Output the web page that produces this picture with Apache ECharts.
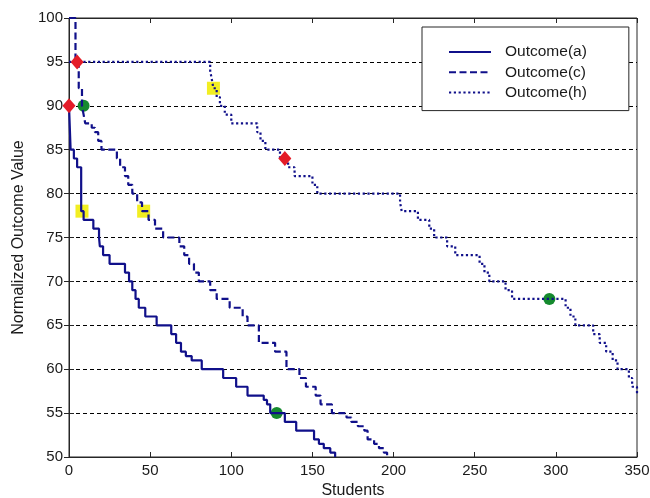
<!DOCTYPE html>
<html>
<head>
<meta charset="utf-8">
<script src="https://cdn.jsdelivr.net/npm/echarts@6/dist/echarts.min.js"></script>
<style>
  html, body { margin: 0; padding: 0; background: #fff; }
  #main { width: 650px; height: 498px; }
</style>
</head>
<body>
<div id="main"></div>
<script>
// step points: value y holds from x until the next x
const xA = [0, 1, 3, 5, 7.5, 9, 15, 18.5, 19, 21, 25, 34.5, 37, 39, 41, 43, 47, 54, 63, 66, 69, 72, 75.6, 81.8, 95, 103, 110, 120, 122, 124, 133, 140, 151, 154, 157, 161, 164]
const yA = [90, 85, 84, 83, 78, 77, 76, 75, 74, 73, 72, 71, 70, 69, 68, 67, 66, 65, 64, 63, 62, 61.5, 61, 60, 59, 58, 57, 56.5, 56, 55, 54, 53, 52, 51.5, 51, 50.5, 50]

const xC = [0, 4, 6, 8, 9, 10, 14, 16, 18, 20, 29.5, 31.5, 34.5, 36.5, 39, 42, 45, 49, 53, 58, 68, 71, 74, 77, 80, 87, 91, 99, 107, 110, 117, 127, 134, 142, 146, 152, 155, 162, 171, 174, 178, 182, 184, 188, 191, 194, 196]
const yC = [100, 95, 92, 90, 89, 88, 87.5, 87, 86, 85, 84, 83, 82, 81, 80, 79, 78, 77, 76, 75, 74, 73, 72, 71, 70, 69, 68, 67, 66, 65, 63, 62, 60, 59, 58, 57, 56, 55, 54.5, 54, 53.5, 53, 52, 51.5, 51, 50.5, 50]

const xH = [0, 87, 88, 89, 91, 93, 96, 100, 116, 118, 121, 130, 135, 139, 150, 153, 204, 205, 215, 222, 225, 233, 238, 253, 256, 259, 269, 273, 306, 309, 312, 323, 327, 331, 335, 338, 345, 347, 350]
const yH = [95, 94, 93, 92, 91, 90, 89, 88, 87, 86, 85, 84, 83, 82, 81, 80, 79, 78, 77, 76, 75, 74, 73, 72, 71, 70, 69, 68, 67, 66, 65, 64, 63, 62, 61, 60, 59, 58, 57]

// highlighted students
const redX = [0, 5, 133]
const redY = [90, 95, 84]
const greenX = [9, 128, 296]
const greenY = [90, 55, 68]
const yellowX = [8, 46, 89]
const yellowY = [78, 78, 92]

const seriesNames = ['Outcome(a)', 'Outcome(c)', 'Outcome(h)']

const zip = (xs, ys) => xs.map((x, i) => [x, ys[i]])

const lineColor = '#10108a'
const textColor = '#1a1a1a'
const font = 'Liberation Sans, Arial, sans-serif'

const chart = echarts.init(document.getElementById('main'))

const baseX = {
  type: 'value',
  min: 0,
  max: 350,
  interval: 50,
  axisLine: { lineStyle: { color: '#262626' } },
  axisTick: { inside: true, length: 5, lineStyle: { color: '#262626' } },
  splitLine: { show: false }
}
const baseY = {
  type: 'value',
  min: 50,
  max: 100,
  interval: 5,
  axisLine: { lineStyle: { color: '#262626' } },
  axisTick: { inside: true, length: 5, lineStyle: { color: '#262626' } }
}

const option = {
  animation: false,
  grid: {
    left: 69, right: 13, top: 18, bottom: 41,
    outerBoundsMode: 'none',
    show: true, borderColor: '#262626', borderWidth: 1, backgroundColor: '#fff'
  },
  legend: {
    data: seriesNames,
    orient: 'vertical',
    left: 422,
    top: 27,
    padding: [17, 42, 10, 26],
    itemWidth: 42,
    itemHeight: 14,
    itemGap: 4.3,
    borderColor: '#262626',
    borderWidth: 1,
    borderRadius: 0,
    backgroundColor: '#fff',
    itemStyle: { opacity: 0 },
    textStyle: { fontSize: 15.5, color: textColor, fontFamily: font, padding: [0, 0, 0, 9] }
  },
  xAxis: [{
    ...baseX,
    name: 'Students',
    nameLocation: 'middle',
    nameGap: 24,
    nameTextStyle: { fontSize: 16, color: textColor, fontFamily: font },
    axisLabel: { margin: 6, fontSize: 15, color: textColor, fontFamily: font }
  }, {
    ...baseX,
    position: 'top',
    axisLabel: { show: false }
  }],
  yAxis: [{
    ...baseY,
    name: 'Normalized Outcome Value',
    nameLocation: 'middle',
    nameGap: 41,
    nameTextStyle: { fontSize: 16, color: textColor, fontFamily: font },
    axisLabel: { margin: 6, fontSize: 15, color: textColor, fontFamily: font },
    splitLine: { lineStyle: { type: [4, 3], color: '#000', width: 1 } }
  }, {
    ...baseY,
    position: 'right',
    axisLabel: { show: false },
    splitLine: { show: false }
  }],
  series: [
    {
      name: seriesNames[0], type: 'line', step: 'end', symbol: 'none', z: 2,
      data: zip(xA, yA),
      itemStyle: { color: lineColor },
      lineStyle: { color: lineColor, width: 2.2, type: 'solid' }
    },
    {
      name: seriesNames[1], type: 'line', step: 'end', symbol: 'none', z: 2,
      data: zip(xC, yC),
      itemStyle: { color: lineColor },
      lineStyle: { color: lineColor, width: 2.2, type: [7, 3.5] }
    },
    {
      name: seriesNames[2], type: 'line', step: 'end', symbol: 'none', z: 2,
      data: zip(xH, yH),
      itemStyle: { color: lineColor },
      lineStyle: { color: lineColor, width: 2.2, type: [2.2, 2.6] }
    },
    {
      type: 'scatter', symbol: 'rect', symbolSize: 13, z: 1,
      data: zip(yellowX, yellowY),
      itemStyle: { color: '#f2ee22', opacity: 1 }
    },
    {
      type: 'scatter', symbol: 'circle', symbolSize: 12, z: 1,
      data: zip(greenX, greenY),
      itemStyle: { color: '#158a2e', opacity: 1 }
    },
    {
      type: 'scatter', symbol: 'diamond', symbolSize: [13, 15], z: 3,
      data: zip(redX, redY),
      itemStyle: { color: '#e41c28', opacity: 1 }
    }
  ]
}

chart.setOption(option)
</script>
</body>
</html>
